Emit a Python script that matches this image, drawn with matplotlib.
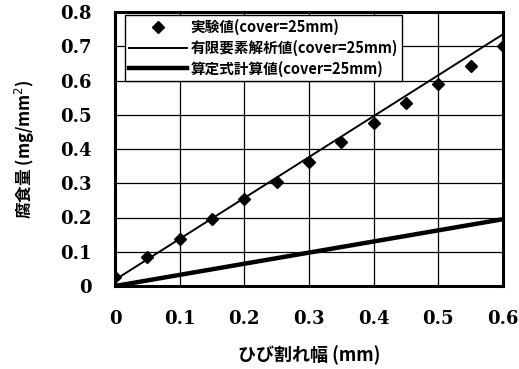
"""Corrosion amount vs crack width: experiment, FEM and formula (cover=25mm)."""

import matplotlib
matplotlib.use("Agg")
import matplotlib.pyplot as plt
from matplotlib.ticker import FormatStrFormatter

plt.rcParams["font.family"] = ["Noto Sans CJK JP", "DejaVu Sans"]

# experimental values
crack_exp = [0.0, 0.05, 0.1, 0.15, 0.2, 0.25, 0.3, 0.35, 0.4, 0.45, 0.5, 0.55, 0.6]
corr_exp = [0.027, 0.086, 0.136, 0.195, 0.254, 0.305, 0.363, 0.421, 0.477, 0.534, 0.59, 0.643, 0.70]

# FEM analysis
crack_fem = [0.0, 0.6]
corr_fem = [0.018, 0.735]

# formula
crack_calc = [0.0, 0.6]
corr_calc = [0.0, 0.195]

x_ticks = [0, 0.1, 0.2, 0.3, 0.4, 0.5, 0.6]
y_ticks = [0, 0.1, 0.2, 0.3, 0.4, 0.5, 0.6, 0.7, 0.8]

label_exp = "実験値(cover=25mm)"
label_fem = "有限要素解析値(cover=25mm)"
label_calc = "算定式計算値(cover=25mm)"

fig = plt.figure(figsize=(5.19, 3.69), dpi=100)
ax = fig.add_axes([115 / 519, 1 - 286 / 369, 388 / 519, 274 / 369])

ax.plot(crack_exp, corr_exp, "D", color="black", markersize=6, label=label_exp, zorder=4)
ax.plot(crack_fem, corr_fem, "-", color="black", linewidth=1.4, label=label_fem, zorder=3)
ax.plot(crack_calc, corr_calc, "-", color="black", linewidth=3.2, label=label_calc, zorder=3)

ax.set_xlim(0, 0.6)
ax.set_ylim(0, 0.8)
ax.set_xticks(x_ticks)
ax.set_yticks(y_ticks)
ax.xaxis.set_major_formatter(FormatStrFormatter("%g"))
ax.yaxis.set_major_formatter(FormatStrFormatter("%g"))
ax.grid(True, color="black", linewidth=0.9)
ax.set_axisbelow(True)
for s in ax.spines.values():
    s.set_linewidth(2.2)
ax.tick_params(length=0, labelsize=13)
ax.tick_params(axis="x", pad=17)
ax.tick_params(axis="y", pad=17)
for t in ax.get_xticklabels() + ax.get_yticklabels():
    t.set_family(["DejaVu Serif"])
    t.set_fontweight("bold")

ax.set_xlabel("ひび割れ幅 (mm)", fontsize=13, fontweight="bold")
ax.set_ylabel("腐食量 (mg/mm$^2$)", fontsize=12, fontweight="bold")
ax.xaxis.set_label_coords(0.5, -0.215)
ax.yaxis.set_label_coords(-0.2, 0.5)

leg = ax.legend(loc="upper left", bbox_to_anchor=(0.025, 0.99), fontsize=10.5,
                frameon=True, fancybox=False, edgecolor="black", framealpha=1,
                handlelength=4.0, borderpad=0.3, labelspacing=0.3,
                handletextpad=0.2, borderaxespad=0.0)
leg.get_frame().set_linewidth(1.0)
for t in leg.get_texts():
    t.set_fontweight("bold")

fig.savefig("out.png", dpi=100)
